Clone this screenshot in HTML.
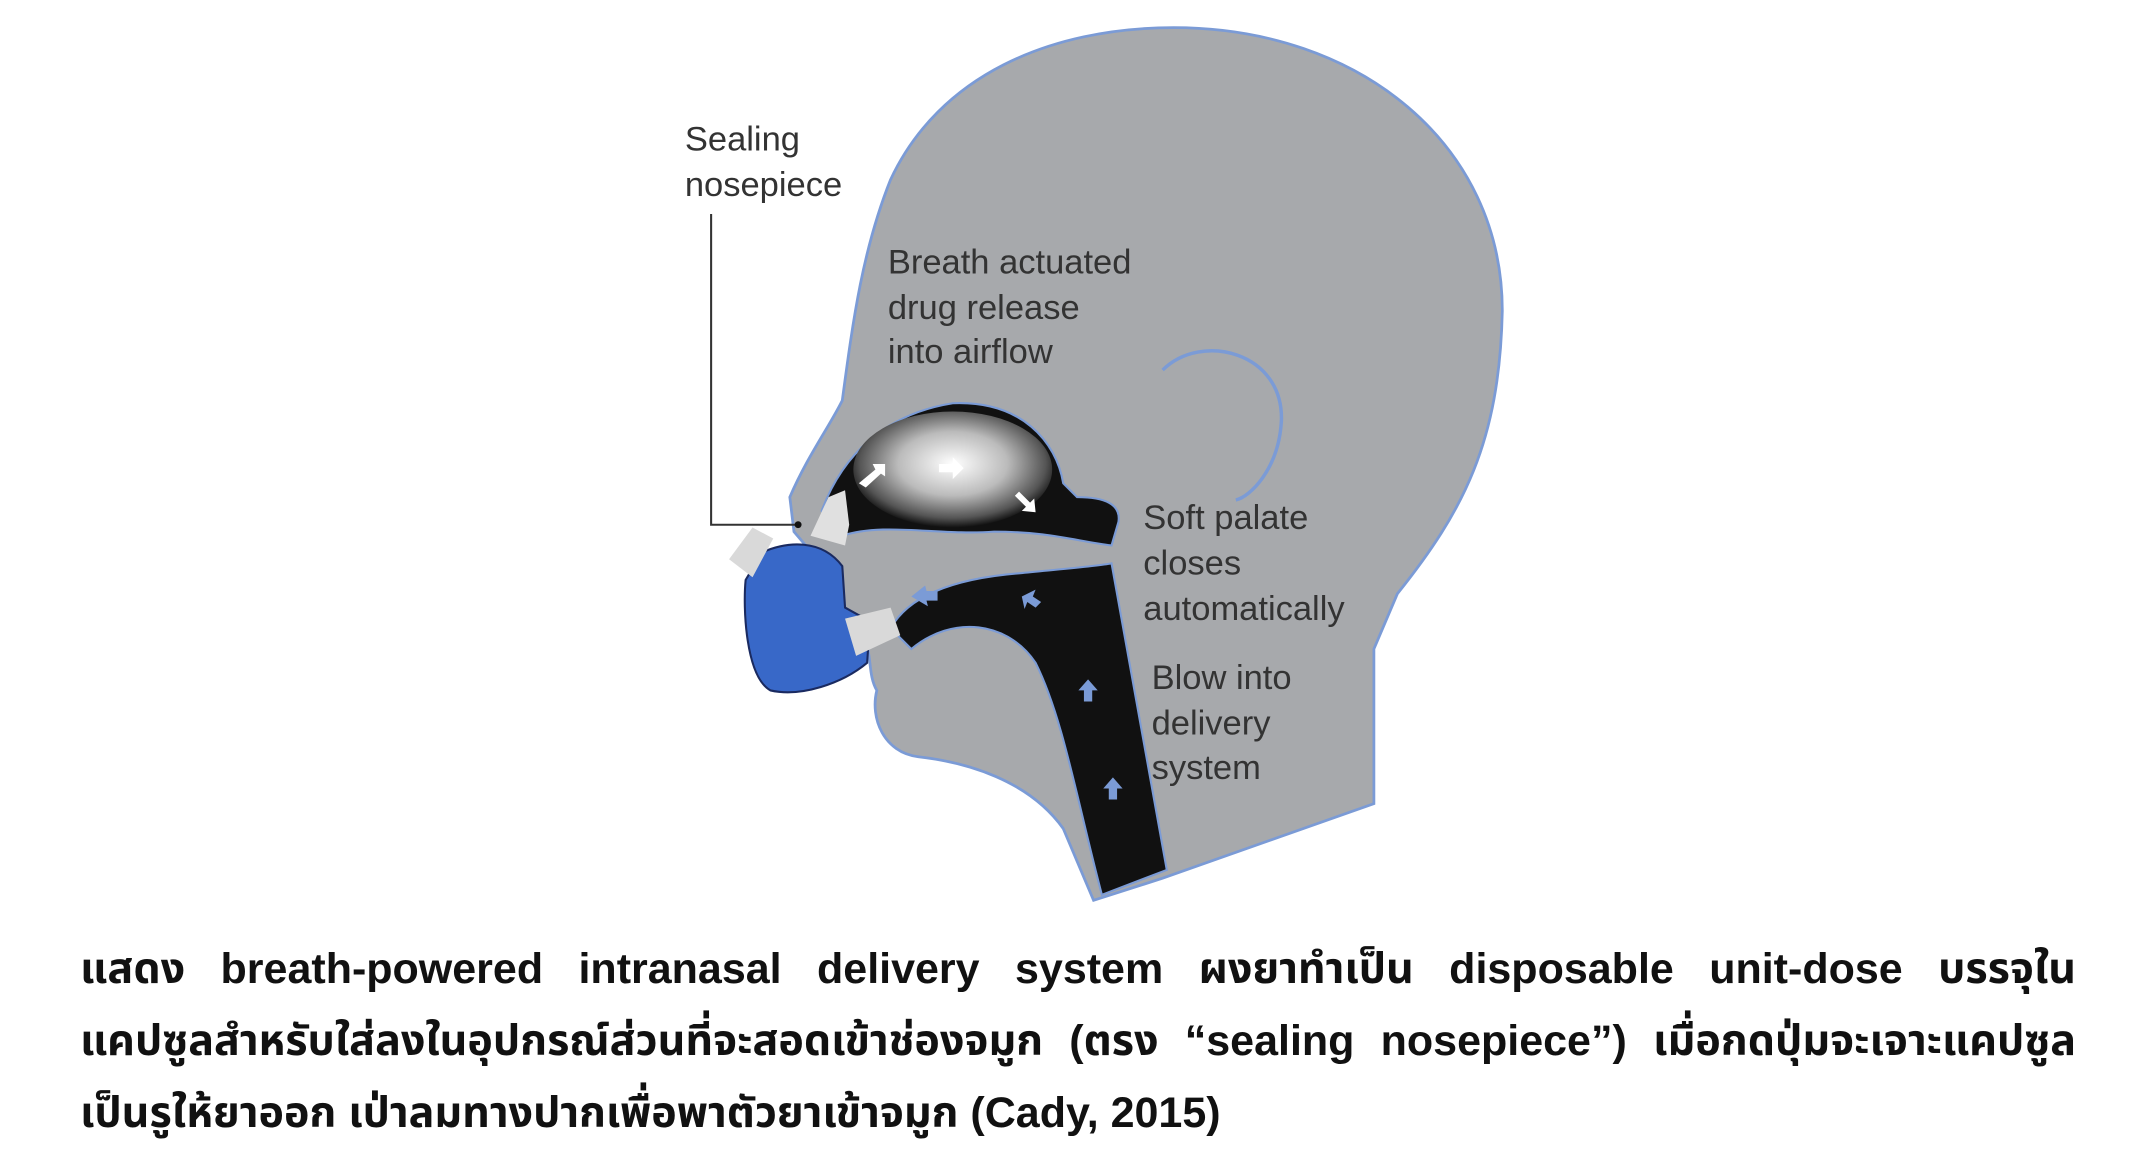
<!DOCTYPE html>
<html><head><meta charset="utf-8">
<style>
html,body{margin:0;padding:0;background:#fff;width:2143px;height:1158px;overflow:hidden;}
svg{position:absolute;left:0;top:0;}
.cap{position:absolute;left:80px;width:1996px;font-family:"Liberation Sans","Noto Sans Thai","Loma","Garuda",sans-serif;font-size:43px;font-weight:bold;color:#111;line-height:72px;text-align:justify;text-align-last:justify;white-space:nowrap;}
</style></head><body>
<svg width="2143" height="1158" viewBox="0 0 1552 838.6">
<defs>
<radialGradient id="cloud" cx="0.5" cy="0.45" r="0.55">
<stop offset="0" stop-color="#fff"/><stop offset="0.5" stop-color="#bbb"/><stop offset="0.85" stop-color="#555"/><stop offset="1" stop-color="#111"/>
</radialGradient>
</defs>
<path d="M792,652 L770,600 C745,565 700,552 665,548 C640,545 630,520 635,500 C628,488 632,472 625,462 L605,440 L592,405 L575,385 L572,360 C585,330 600,310 610,290 C618,230 625,180 645,130 C680,55 760,20 850,20 C985,20 1088,105 1088,225 C1086,320 1060,370 1012,430 L995,470 L995,582 L842,636 Z" fill="#a7a9ac" stroke="#7b9bd6" stroke-width="2"/>
<path d="M842,268 C870,240 930,255 928,305 C926,340 905,360 895,362" fill="none" stroke="#7b9bd6" stroke-width="2.5"/>
<path d="M595,370 C610,330 640,300 690,292 C740,290 765,320 770,350 L780,360 C800,360 812,365 810,378 L805,395 C780,392 760,385 720,385 C680,388 640,378 610,388 Z" fill="#111" stroke="#7b9bd6" stroke-width="1.5"/>
<ellipse cx="690" cy="340" rx="72" ry="42" fill="url(#cloud)"/>
<path d="M645,455 C660,428 700,418 740,415 C770,412 795,410 805,408 L845,630 L798,648 C780,580 770,520 750,480 C730,450 690,445 660,470 Z" fill="#111" stroke="#7b9bd6" stroke-width="1.5"/>
<g fill="#fff"><path d="M622,350 l12,-10 l-2,-4 l9,0 l0,9 l-3,-2 l-11,10z"/><path d="M680,336 l10,0 l0,-5 l8,8 l-8,8 l0,-5 l-10,0z"/><path d="M738,356 l8,8 l3,-3 l1,10 l-10,-1 l3,-3 l-8,-8z"/></g>
<g fill="#7b9bd6"><path d="M660,432 l10,-8 l1,4 l8,0 l0,7 l-8,0 l1,4z"/><path d="M740,432 l10,-5 l-2,5 l6,4 l-4,4 l-6,-4 l-2,5z"/><path d="M788,492 l7,8 l-4,0 l0,8 l-6,0 l0,-8 l-4,0z"/><path d="M806,563 l7,8 l-4,0 l0,8 l-6,0 l0,-8 l-4,0z"/></g>
<path d="M587,388 L600,360 L612,355 L615,380 L612,395 Z" fill="#e0e0e0"/>
<path d="M552,400 C570,392 595,390 610,410 L612,440 L630,450 L628,480 C610,495 580,505 558,500 C540,490 538,440 540,420 Z" fill="#3868c8" stroke="#1a2a60" stroke-width="1.5"/>
<path d="M528,405 L545,382 L560,390 L545,418 Z" fill="#d9d9d9"/>
<path d="M612,448 L645,440 L652,460 L620,475 Z" fill="#d9d9d9"/>
<polyline points="515,155 515,380 578,380" fill="none" stroke="#333" stroke-width="1.5"/>
<circle cx="578" cy="380" r="2.5" fill="#111"/>
<g font-family="Liberation Sans, sans-serif" font-size="25" fill="#333">
<text x="496" y="109">Sealing</text><text x="496" y="142">nosepiece</text>
<text x="643" y="198">Breath actuated</text><text x="643" y="231">drug release</text><text x="643" y="263">into airflow</text>
<text x="828" y="383">Soft palate</text><text x="828" y="416">closes</text><text x="828" y="449">automatically</text>
<text x="834" y="499">Blow into</text><text x="834" y="532">delivery</text><text x="834" y="564">system</text>
</g>
</svg>
<div class="cap" style="top:933px">แสดง breath-powered intranasal delivery system ผงยาทำเป็น disposable unit-dose บรรจุใน</div>
<div class="cap" style="top:1005px">แคปซูลสำหรับใส่ลงในอุปกรณ์ส่วนที่จะสอดเข้าช่องจมูก (ตรง “sealing nosepiece”) เมื่อกดปุ่มจะเจาะแคปซูล</div>
<div class="cap" style="top:1077px;text-align-last:left">เป็นรูให้ยาออก เป่าลมทางปากเพื่อพาตัวยาเข้าจมูก (Cady, 2015)</div>
</body></html>
